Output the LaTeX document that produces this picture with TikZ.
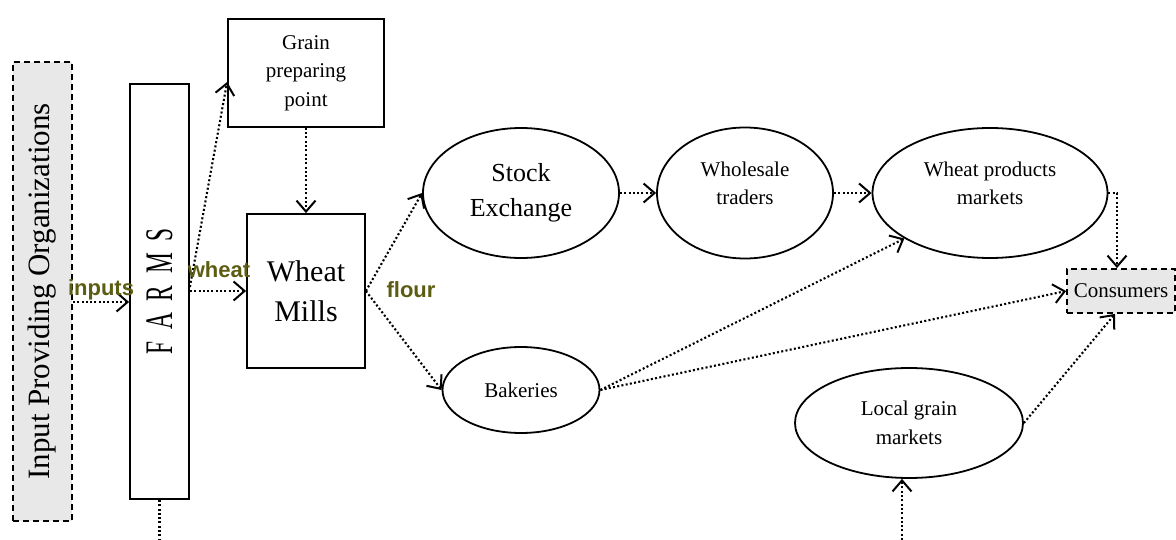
\documentclass[tikz,border=0pt]{standalone}
\usepackage{graphicx}
\usepackage{fontspec}
\setmainfont{Liberation Serif}
\newfontfamily\goodsfont{Liberation Sans}
\usetikzlibrary{arrows.meta,shapes.geometric}
\definecolor{boxgray}{RGB}{232,232,232}
\definecolor{goods}{RGB}{92,92,18}

\begin{document}
\begin{tikzpicture}[
  x=1pt,y=-1pt,
  >={Straight Barb[length=11pt,width=19pt,line width=2pt]},
  block/.style={rectangle,draw=black,line width=1.8pt,inner sep=0pt,align=center},
  outer/.style={block,fill=boxgray,dash pattern=on 6pt off 4pt},
  place/.style={ellipse,draw=black,line width=1.8pt,inner sep=0pt,align=center},
  dotline/.style={line width=2.1pt,dash pattern=on 2pt off 2.3pt},
  flow/.style={dotline,->},
  goodlabel/.style={font=\goodsfont\bfseries\fontsize{22}{22}\selectfont,text=goods,inner sep=0pt},
  small/.style={font=\fontsize{21}{28.5}\selectfont}
]
\useasboundingbox (0,0) rectangle (1176,540);
% ================= left: inputs and farms =================
\node[outer,minimum width=59pt,minimum height=459pt] (inp) at (42.5,291.5)
  {\rotatebox{90}{\fontsize{31}{31}\selectfont Input Providing Organizations}};
\node[block,minimum width=59pt,minimum height=415pt] (farms) at (159.5,291.5)
  {\rotatebox{90}{\scalebox{0.6}[1]{\fontsize{39}{39}\selectfont F\enspace A\enspace R\enspace M\enspace S}}};
\node[block,small,minimum width=156pt,minimum height=108pt] (grain) at (306,73) {Grain\\preparing\\point};
\node[block,minimum width=118pt,minimum height=154pt,font=\fontsize{30}{40}\selectfont] (mills) at (306,291) {Wheat\\Mills};
\coordinate (farmsout) at (159.5,540);
% ================= right: markets =================
\node[place,minimum width=196pt,minimum height=130pt,font=\fontsize{26}{35}\selectfont] (stock) at (521,193) {Stock\\Exchange};
\node[place,small,minimum width=176pt,minimum height=131pt] (whole) at (745,193) {Wholesale\\traders\\[-8.5pt]};
\node[place,small,minimum width=235pt,minimum height=130pt] (wprod) at (990,193) {Wheat products\\markets\\[-8.5pt]};
\node[place,small,minimum width=157pt,minimum height=86pt] (bake) at (521,390) {Bakeries};
\node[place,small,minimum width=228pt,minimum height=110pt] (local) at (909,423) {Local grain\\markets};
\node[outer,small,minimum width=108pt,minimum height=44pt] (cons) at (1121,291) {Consumers};
\coordinate (localin) at (902,540);
% ================= flows =================
\draw[flow] (inp.east |- 0,302) -- (farms.west |- 0,302);
\draw[flow] (farms.east |- 0,291) -- (mills.west);
\draw[flow] (farms.east |- 0,287) -- ([yshift=-9pt]grain.west);
\draw[dotline] (farms.south) -- (farmsout);
\draw[flow] (grain.south) -- (mills.north);
\draw[flow] (mills.east) -- (stock.west);
\draw[flow] (mills.east) -- (bake.west);
\draw[flow] (stock.east) -- (whole.west);
\draw[flow] (whole.east) -- (wprod.west);
\draw[flow] (wprod.east) -| ([xshift=-4pt]cons.north);
\draw[flow] (bake.east) -- (wprod.208);
\draw[flow] (bake.east) -- (cons.west);
\draw[flow] (local.east) -- ([xshift=-6pt]cons.south);
\draw[flow] (localin) -- (localin |- local.south);
\node[goodlabel] (inlab) at (101,290) {inputs};
\node[goodlabel] (wlab) at (219,270) {wheat};
\node[goodlabel] (flab) at (411,290) {flour};
\end{tikzpicture}
\end{document}
